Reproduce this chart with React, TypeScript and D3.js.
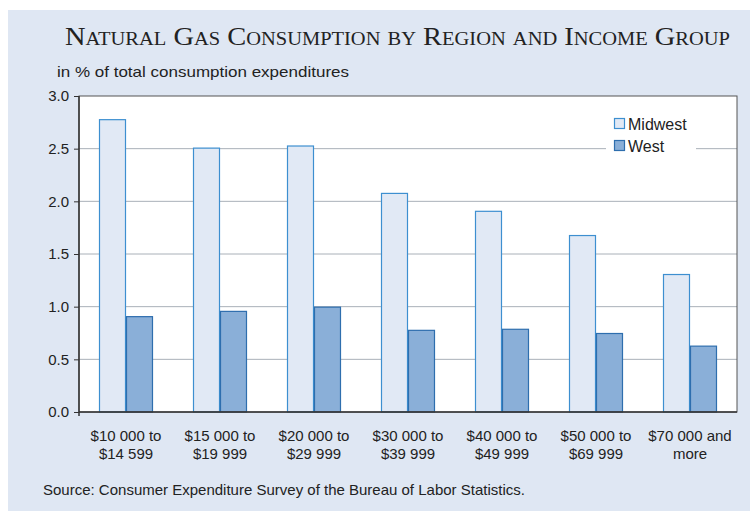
import React, { useRef, useEffect } from 'react';
import * as d3 from 'd3';

const categories = [
  ['$10 000 to', '$14 599'],
  ['$15 000 to', '$19 999'],
  ['$20 000 to', '$29 999'],
  ['$30 000 to', '$39 999'],
  ['$40 000 to', '$49 999'],
  ['$50 000 to', '$69 999'],
  ['$70 000 and', 'more'],
];
const series = ['Midwest', 'West'];
const midwest = [2.78, 2.51, 2.53, 2.08, 1.91, 1.68, 1.31];
const west = [0.91, 0.96, 1.0, 0.78, 0.79, 0.75, 0.63];
const yTicks = [0, 0.5, 1.0, 1.5, 2.0, 2.5, 3.0];

const fills = ['#e1e9f5', '#8aafd8'];
const strokes = ['#3d8fd0', '#2e6eae'];

const App = () => {
  const svgRef = useRef<SVGSVGElement>(null);

  useEffect(() => {
    const svg = d3.select(svgRef.current);
    svg.selectAll('*').remove();

    const W = 750, H = 511;
    const left = 79, right = 737, top = 96, bottom = 412;
    const sans = '"Liberation Sans", Arial, sans-serif';

    // panel background
    svg.append('rect').attr('x', 8).attr('y', 10).attr('width', W - 8).attr('height', H - 10).attr('fill', '#dfe7f3');

    // title in small caps
    svg.append('text')
      .attr('x', 65).attr('y', 45)
      .style('font-family', '"Liberation Serif", "Times New Roman", serif')
      .style('font-variant', 'small-caps')
      .style('font-size', '25px')
      .attr('fill', '#222')
      .attr('textLength', 665)
      .attr('lengthAdjust', 'spacingAndGlyphs')
      .text('Natural Gas Consumption by Region and Income Group');

    svg.append('text')
      .attr('x', 57).attr('y', 77)
      .style('font-family', sans).style('font-size', '15px').attr('fill', '#222')
      .attr('textLength', 292)
      .attr('lengthAdjust', 'spacingAndGlyphs')
      .text('in % of total consumption expenditures');

    svg.append('rect').attr('x', left).attr('y', top).attr('width', right - left).attr('height', bottom - top).attr('fill', '#fff');

    const x = d3.scaleBand<number>().domain(d3.range(categories.length)).range([left, right]);
    const y = d3.scaleLinear().domain([0, 3]).range([bottom, top]);

    // gridlines
    svg.append('g').selectAll('line').data(yTicks.slice(1, -1)).enter().append('line')
      .attr('x1', left).attr('x2', right)
      .attr('y1', d => y(d)).attr('y2', d => y(d))
      .attr('stroke', '#a9b0b8').attr('stroke-width', 1);

    // legend backing (hides gridline)
    svg.append('rect').attr('x', 606).attr('y', 112).attr('width', 90).attr('height', 44).attr('fill', '#fff');

    // bars
    const bw = 27;
    const values = [midwest, west];
    values.forEach((vals, si) => {
      svg.append('g').selectAll('rect').data(vals).enter().append('rect')
        .attr('x', (d, i) => (x(i) as number) + x.bandwidth() / 2 - bw + si * bw + 0.5)
        .attr('y', d => y(d) + 0.5)
        .attr('width', bw - 1)
        .attr('height', d => bottom - y(d) - 0.5)
        .attr('fill', fills[si])
        .attr('stroke', strokes[si])
        .attr('stroke-width', 1.2);
    });

    // frame
    svg.append('rect').attr('x', left).attr('y', top).attr('width', right - left).attr('height', bottom - top)
      .attr('fill', 'none').attr('stroke', '#555').attr('stroke-width', 1);
    svg.append('line').attr('x1', left).attr('x2', left).attr('y1', top).attr('y2', bottom + 4).attr('stroke', '#333').attr('stroke-width', 1.5);
    svg.append('line').attr('x1', left).attr('x2', right).attr('y1', bottom).attr('y2', bottom).attr('stroke', '#333').attr('stroke-width', 1.5);

    // y axis
    const yAxis = svg.append('g').attr('transform', `translate(${left},0)`)
      .call(d3.axisLeft(y).tickValues(yTicks).tickFormat(d3.format('.1f')).tickSize(5).tickPadding(5));
    yAxis.select('.domain').remove();
    yAxis.selectAll('line').attr('stroke', '#333');
    yAxis.selectAll('text').style('font-family', sans).style('font-size', '15px').attr('fill', '#222');

    // x labels
    const xl = svg.append('g').selectAll('text').data(categories).enter().append('text')
      .attr('text-anchor', 'middle')
      .attr('x', (d, i) => (x(i) as number) + x.bandwidth() / 2)
      .attr('y', 441)
      .style('font-family', sans).style('font-size', '15px').attr('fill', '#222');
    xl.append('tspan').attr('x', (d, i) => (x(i) as number) + x.bandwidth() / 2).attr('dy', 0).text(d => d[0]);
    xl.append('tspan').attr('x', (d, i) => (x(i) as number) + x.bandwidth() / 2).attr('dy', 18).text(d => d[1]);

    // legend
    series.forEach((s, i) => {
      svg.append('rect').attr('x', 614.5).attr('y', 118.5 + i * 22).attr('width', 10).attr('height', 10)
        .attr('fill', fills[i]).attr('stroke', strokes[i]).attr('stroke-width', 1.2);
      svg.append('text').attr('x', 628).attr('y', 130 + i * 22)
        .style('font-family', sans).style('font-size', '16px').attr('fill', '#222').text(s);
    });

    svg.append('text')
      .attr('x', 43).attr('y', 495)
      .style('font-family', sans).style('font-size', '15px').attr('fill', '#222')
      .text('Source: Consumer Expenditure Survey of the Bureau of Labor Statistics.');
  }, []);

  return <svg ref={svgRef} width={750} height={511} style={{ position: 'absolute', left: 0, top: 0 }} />;
};

export default App;
